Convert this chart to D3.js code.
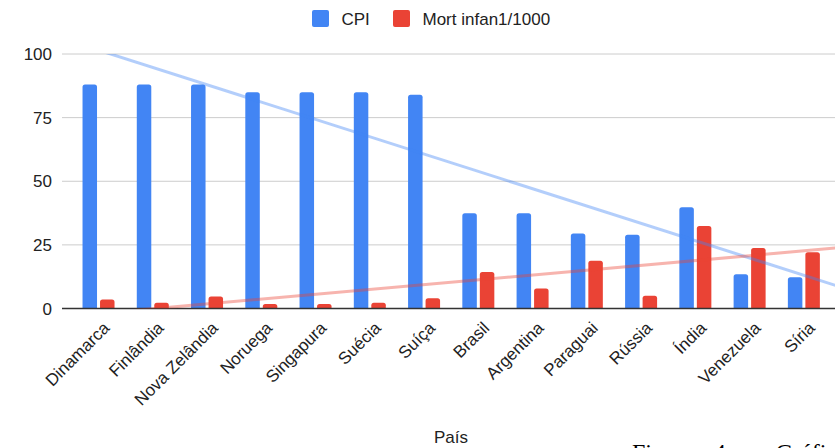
<!DOCTYPE html>
<html><head><meta charset="utf-8">
<script src="https://cdn.jsdelivr.net/npm/d3@7"></script>
<style>
html,body{margin:0;padding:0;background:#fff;}
svg{display:block;font-family:Arial,"Liberation Sans",sans-serif;}
</style></head>
<body>
<svg id="chart" width="835" height="448"></svg>
<script>
const categories = ["Dinamarca","Finlândia","Nova Zelândia","Noruega","Singapura","Suécia","Suíça","Brasil","Argentina","Paraguai","Rússia","Índia","Venezuela","Síria"];
const cpi = [88, 88, 88, 85, 85, 85, 84, 37.4, 37.4, 29.5, 29, 39.8, 13.5, 12.3];
const mort = [3.5, 2.3, 4.7, 1.8, 1.8, 2.3, 4, 14.3, 7.9, 18.8, 5, 32.4, 23.8, 22.1];
const yTicks = [0, 25, 50, 75, 100];
const seriesNames = ["CPI", "Mort infan1/1000"];
const colors = ["#4285F4", "#EA4335"];

const svg = d3.select("#chart");
const plotLeft = 62, plotRight = 840, plotTop = 54, plotBottom = 308.5;

const x = d3.scaleBand().domain(categories).range([71.4, 831]).padding(0);
const y = d3.scaleLinear().domain([0, 100]).range([plotBottom, plotTop]);
const xi = d3.scaleLinear().domain([0, categories.length - 1])
  .range([x(categories[0]) + x.bandwidth()/2, x(categories[categories.length-1]) + x.bandwidth()/2]);

svg.append("g").selectAll("line").data(yTicks.filter(d => d > 0)).join("line")
  .attr("x1", plotLeft).attr("x2", plotRight)
  .attr("y1", d => y(d)).attr("y2", d => y(d))
  .attr("stroke", "#cccccc").attr("stroke-width", 1);

svg.append("g").selectAll("text").data(yTicks).join("text")
  .attr("x", 52).attr("y", d => y(d)).attr("dy", "0.36em")
  .attr("text-anchor", "end").attr("font-size", 17).attr("fill", "#222")
  .text(d => d);

const bw = 14.5, gap = 3;
function roundedTop(x0, y0, w, h, r) {
  r = Math.min(r, h, w/2);
  return `M${x0},${y0+h}V${y0+r}Q${x0},${y0} ${x0+r},${y0}H${x0+w-r}Q${x0+w},${y0} ${x0+w},${y0+r}V${y0+h}Z`;
}
const gBars = svg.append("g");
[cpi, mort].forEach((vals, s) => {
  gBars.selectAll(null).data(vals).join("path")
    .attr("fill", colors[s])
    .attr("d", (d, i) => {
      const c = x(categories[i]) + x.bandwidth()/2;
      const x0 = s === 0 ? c - gap/2 - bw : c + gap/2;
      return roundedTop(x0, y(d), bw, y(0) - y(d), 2.5);
    });
});

svg.append("line").attr("x1", plotLeft).attr("x2", plotRight)
  .attr("y1", y(0)).attr("y2", y(0)).attr("stroke", "#333").attr("stroke-width", 1.5);

svg.append("defs").append("clipPath").attr("id", "clip")
  .append("rect").attr("x", plotLeft).attr("y", plotTop).attr("width", plotRight - plotLeft).attr("height", plotBottom - plotTop);
function regress(vals) {
  const n = vals.length, mx = (n - 1) / 2, my = d3.mean(vals);
  let sxy = 0, sxx = 0;
  vals.forEach((v, i) => { sxy += (i - mx) * (v - my); sxx += (i - mx) * (i - mx); });
  const b = sxy / sxx; return { a: my - b * mx, b };
}
const gTrend = svg.append("g").attr("clip-path", "url(#clip)");
[cpi, mort].forEach((vals, s) => {
  const r = regress(vals);
  const i0 = xi.invert(plotLeft), i1 = xi.invert(plotRight);
  gTrend.append("line")
    .attr("x1", xi(i0)).attr("y1", y(r.a + r.b * i0))
    .attr("x2", xi(i1)).attr("y2", y(r.a + r.b * i1))
    .attr("stroke", colors[s]).attr("stroke-opacity", 0.4).attr("stroke-width", 3);
});

svg.append("g").selectAll("text").data(categories).join("text")
  .attr("transform", d => `translate(${x(d) + x.bandwidth()/2 + 12},329) rotate(-45)`)
  .attr("text-anchor", "end").attr("font-size", 17).attr("fill", "#222")
  .text(d => d);

svg.append("text").attr("x", (plotLeft + plotRight) / 2).attr("y", 443)
  .attr("text-anchor", "middle").attr("font-size", 17).attr("fill", "#222").text("País");

const legendX = [312, 393];
seriesNames.forEach((name, s) => {
  svg.append("rect").attr("x", legendX[s]).attr("y", 10).attr("width", 17).attr("height", 17)
    .attr("rx", 2).attr("fill", colors[s]);
  svg.append("text").attr("x", legendX[s] + 29.5).attr("y", 25).attr("font-size", 17)
    .attr("fill", "#222").text(name);
});

svg.append("text").attr("x", 632).attr("y", 460)
  .attr("font-family", "'Liberation Serif','Times New Roman',serif")
  .attr("font-size", 24).attr("word-spacing", 13).attr("fill", "#000")
  .text("Figura 4 – Gráfico");
</script>
</body></html>
